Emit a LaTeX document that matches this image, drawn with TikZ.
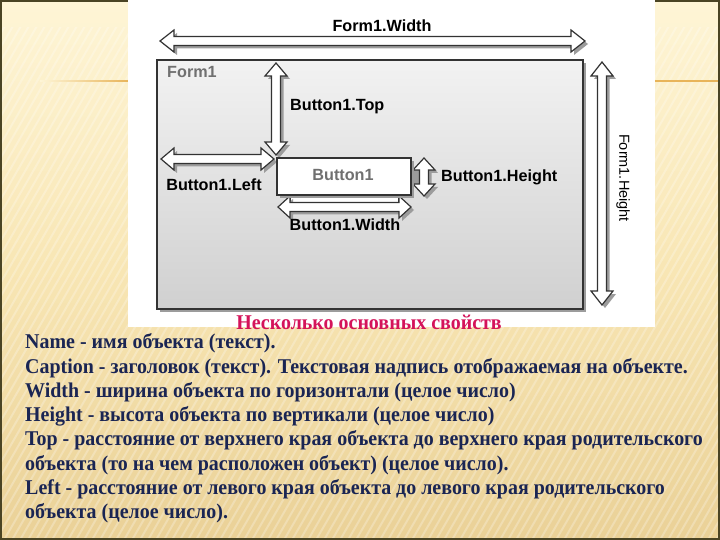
\documentclass[tikz,border=0pt]{standalone}
\usepackage{fontspec}
\setmainfont{Liberation Serif}
\newfontfamily\labfont{Liberation Sans}
\newfontfamily\bodyfont[FakeStretch=0.95]{Liberation Serif}
\definecolor{bgtop}{HTML}{FEF5D6}
\definecolor{bgmid}{HTML}{F8E6B4}
\definecolor{bgbot}{HTML}{EAD197}
\definecolor{framecol}{HTML}{4A4424}
\definecolor{goldline}{HTML}{E8B45A}
\definecolor{outl}{HTML}{333333}
\definecolor{shad}{HTML}{9C9C9C}
\definecolor{formtop}{HTML}{F2F2F2}
\definecolor{formbot}{HTML}{D0D0D0}
\definecolor{titlecol}{HTML}{D4145A}
\definecolor{bodycol}{HTML}{1A2553}
\definecolor{graytext}{HTML}{707070}
\tikzset{
  arrowbody/.style={fill=white, draw=outl, line width=1.2pt, line join=miter},
  arrowshadow/.style={fill=shad, draw=none},
  lab/.style={font=\labfont\bfseries\fontsize{16.2}{18}\selectfont, text=black, inner sep=0pt},
  bodyline/.style={anchor=west, font=\bodyfont\bfseries\fontsize{21}{23}\selectfont, text=bodycol, inner sep=0pt},
  stripe/.style={white, opacity=0.25, line width=2pt}
}
% horizontal double arrow: style, x1, x2, y, head length
\newcommand\hdarr[5]{%
  \path[#1] (#2,#4) -- (#2+#5,#4-11) -- (#2+#5,#4-4.5) -- (#3-#5,#4-4.5) -- (#3-#5,#4-11)
   -- (#3,#4) -- (#3-#5,#4+11) -- (#3-#5,#4+4.5) -- (#2+#5,#4+4.5) -- (#2+#5,#4+11) -- cycle;}
% vertical double arrow: style, y1, y2, x, head length
\newcommand\vdarr[5]{%
  \path[#1] (#4,#2) -- (#4-11,#2+#5) -- (#4-4.5,#2+#5) -- (#4-4.5,#3-#5) -- (#4-11,#3-#5)
   -- (#4,#3) -- (#4+11,#3-#5) -- (#4+4.5,#3-#5) -- (#4+4.5,#2+#5) -- (#4+11,#2+#5) -- cycle;}
\newcommand\HArrow[4]{\hdarr{arrowshadow,shift={(3,3)}}{#1}{#2}{#3}{#4}\hdarr{arrowbody}{#1}{#2}{#3}{#4}}
\newcommand\VArrow[4]{\vdarr{arrowshadow,shift={(3,3)}}{#1}{#2}{#3}{#4}\vdarr{arrowbody}{#1}{#2}{#3}{#4}}
\begin{document}
\begin{tikzpicture}[x=1pt,y=-1pt]
\useasboundingbox (0,0) rectangle (720,540);
% slide background
\fill[top color=bgtop, bottom color=bgbot, middle color=bgmid] (0,0) rectangle (720,540);
\begin{scope}
  \clip (0,28) rectangle (720,540);
  \foreach \x in {-340,-332,...,720} \draw[stripe] (\x,540) -- (\x+312,0);
\end{scope}
\fill[left color=bgtop, right color=goldline] (40,80.3) rectangle (128,81.7);
\fill[goldline] (655,80.3) rectangle (720,81.7);
\draw[framecol, line width=4pt] (0,0) rectangle (720,540);
% white picture panel
\fill[white] (128,0) rectangle (655,327);
% Form
\fill[shad] (160,63) rectangle (586,312);
\fill[top color=formtop, bottom color=formbot, draw=outl, line width=1.5pt] (157,60) rectangle (583,309);
\node[lab, text=graytext] (formname) at (192,72) {Form1};
% Form1.Width
\HArrow{160}{585}{41}{14}
\node[lab] (fw) at (382,26) {Form1.Width};
% Form1.Height
\VArrow{62}{305}{602}{14}
\node[font=\labfont\fontsize{14.5}{16}\selectfont, rotate=-90, inner sep=0pt] (fh) at (623,178) {Form1.Height};
% Button1.Top
\VArrow{63}{155}{276}{13}
\node[lab, anchor=west] (bt) at (290,107) {Button1.Top};
% Button1.Left
\HArrow{161}{274}{159}{13}
\node[lab] (bl) at (214,185) {Button1.Left};
% Button1.Width
\fill[shad] (293,197) rectangle (401,206);
\draw[outl, line width=1pt, fill=white] (290,196) rectangle (398,203);
\HArrow{278}{411}{207}{12}
\node[lab] (bw) at (345,225) {Button1.Width};
% Button1.Height
\fill[shad] (411,168) rectangle (419,184);
\VArrow{158}{196}{424}{12}
\node[lab, anchor=west] (bh) at (441,177) {Button1.Height};
% Button
\fill[shad] (280,161) rectangle (414,198);
\draw[fill=white, draw=outl, line width=1.3pt] (277,158) rectangle (411,195);
\node[lab, text=graytext] (b1) at (343,175) {Button1};
% texts
\node[font=\bodyfont\bfseries\fontsize{21}{23}\selectfont, text=titlecol, inner sep=0pt] (title) at (369,322) {Несколько основных свойств};
\node[bodyline] (l1) at (25,343) {Name - имя объекта (текст).};
\node[bodyline] (l2) at (25,368) {Caption - заголовок (текст). Текстовая надпись отображаемая на объекте.};
\node[bodyline] (l3) at (25,392) {Width - ширина объекта по горизонтали (целое число)};
\node[bodyline] (l4) at (25,416) {Height - высота объекта по вертикали (целое число)};
\node[bodyline] (l5) at (25,440) {Top - расстояние от верхнего края объекта до верхнего края родительского};
\node[bodyline] (l6) at (25,465) {объекта (то на чем расположен объект) (целое число).};
\node[bodyline] (l7) at (25,489) {Left - расстояние от левого края объекта до левого края родительского};
\node[bodyline] (l8) at (25,513) {объекта (целое число).};
\end{tikzpicture}
\end{document}
